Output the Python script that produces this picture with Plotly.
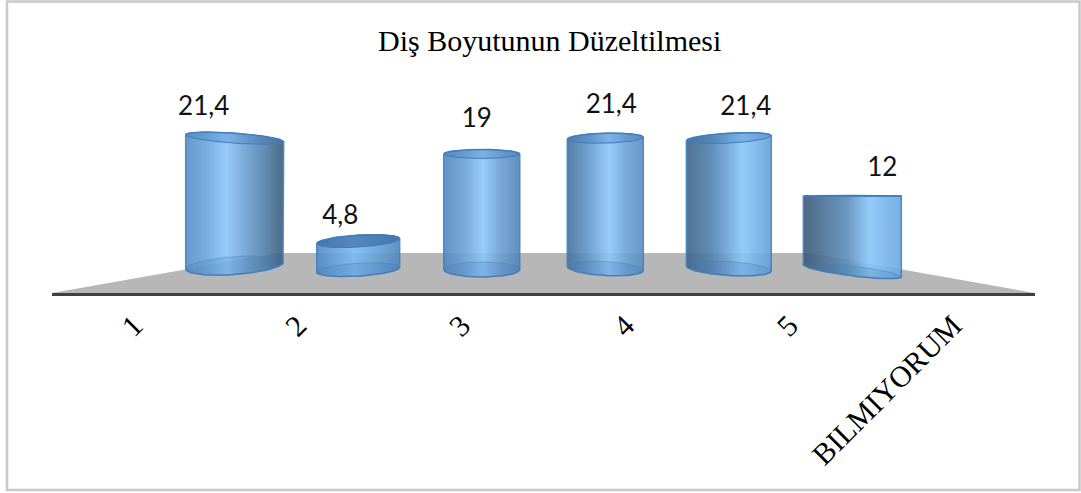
import numpy as np
import plotly.graph_objects as go

# Chart content
title = "Diş Boyutunun Düzeltilmesi"
categories = ["1", "2", "3", "4", "5", "BILMIYORUM"]
values = [21.4, 4.8, 19, 21.4, 21.4, 12]
value_labels = ["21,4", "4,8", "19", "21,4", "21,4", "12"]

# Page and axis layout, in pixels
W, H = 1081, 493
AX_L, AX_R, AX_Y = 52, 1035, 293
BASE_PX = 267          # where value 0 sits on the back-projected column foot
PX_PER_UNIT = 5.95

# Column look: perspective squeezes category spacing about the axis centre
DEPTH = 0.754
half_widths = [0.299, 0.253, 0.232, 0.232, 0.259, 0.299]    # axis units
foot_shift = [0.25, -0.45, 0.0, 0.25, 0.25, -0.07]          # value units
foot_drop = [0, 0, 2.5, 3, 3, 3.5]                          # px the foot ellipse hangs lower
top_tilt = [7, -5, 0, -2, -5, 0]                            # px, right edge minus left edge
top_minor = [5, 6, 4.5, 5, 5, 0.5]
base_tilt = [-7, -5, 0, 4, 5, 12]
base_minor = [9, 6.5, 7.5, 7, 7, 5]
colour_stops = [
    [(0, "#568ec6"), (0.2, "#6aa3da"), (0.42, "#8cc6fa"), (0.62, "#6a9fd0"), (0.85, "#4c789f"), (1, "#395b7b")],
    [(0, "#4f8ac4"), (0.45, "#7dbaf2"), (1, "#4e87bc")],
    [(0, "#4f88c0"), (0.25, "#6a9fd3"), (0.52, "#8cc7fb"), (0.75, "#6b9fd0"), (1, "#4f84b8")],
    [(0, "#44729f"), (0.25, "#5e93c6"), (0.55, "#8cc7fb"), (0.8, "#699fd2"), (1, "#5a8fc2")],
    [(0, "#3f6488"), (0.3, "#4f82b2"), (0.66, "#8ac6fa"), (1, "#62a0d8")],
    [(0, "#3a5876"), (0.2, "#4a7096"), (0.45, "#5c8dbc"), (0.68, "#8ac6fa"), (1, "#68a6de")],
]
EDGE = "#3f7dbd"
label_dx = [-31, -18, -5, 6, 17, 30]    # px from column axis
label_gap = [5.0, 4.0, 5.6, 5.3, 5.0, 4.5]

px_per_axis = (AX_R - AX_L) / 6
y_top = BASE_PX / PX_PER_UNIT
y_bottom = (BASE_PX - AX_Y) / PX_PER_UNIT


def column_centre(i):
    return 3 + DEPTH * (i - 2.5)


def ellipse(xc, yc, hw, minor, tilt, t):
    x = xc + hw * np.cos(t)
    y = yc + (minor * np.sin(t) - tilt / 2 * np.cos(t)) / PX_PER_UNIT
    return x, y


fig = go.Figure()

# Grey floor behind the columns
floor_back = y_bottom + 40 / PX_PER_UNIT
fig.add_trace(go.Scatter(
    x=[0, 6, 3 + 1.62, 3 - 1.62, 0],
    y=[y_bottom, y_bottom, floor_back, floor_back, y_bottom],
    fill="toself", fillcolor="#b7b7b7", mode="lines", line=dict(width=0),
    hoverinfo="skip", showlegend=False,
))

for i, v in enumerate(values):
    xc, hw = column_centre(i), half_widths[i]
    y1 = foot_shift[i] + v
    y0 = foot_shift[i] - foot_drop[i] / PX_PER_UNIT
    upper = np.linspace(np.pi, 0, 60)
    lower = np.linspace(0, -np.pi, 60)
    xt, yt = ellipse(xc, y1, hw, top_minor[i], top_tilt[i], upper)
    xb, yb = ellipse(xc, y0, hw, base_minor[i], base_tilt[i], lower)
    # Cylinder body, from the rear arc of the top to the front arc of the foot
    fig.add_trace(go.Scatter(
        x=np.r_[xt, xb, xt[0]], y=np.r_[yt, yb, yt[0]],
        mode="lines", line=dict(color=EDGE, width=1.5), fill="toself",
        fillgradient=dict(type="horizontal",
                          colorscale=[[s, c] for s, c in colour_stops[i]]),
        opacity=0.9, hoverinfo="skip", showlegend=False,
    ))
    # Top and foot ellipses
    ring = np.linspace(0, 2 * np.pi, 100)
    xr, yr = ellipse(xc, y1, hw, top_minor[i], top_tilt[i], ring)
    fig.add_trace(go.Scatter(
        x=xr, y=yr, mode="lines", line=dict(color=EDGE, width=1), fill="toself",
        fillcolor="rgba(50,100,155,0.6)" if i == 1 else "rgba(60,120,185,0.3)",
        hoverinfo="skip", showlegend=False,
    ))
    xr, yr = ellipse(xc, y0, hw, base_minor[i], base_tilt[i], ring)
    fig.add_trace(go.Scatter(
        x=xr, y=yr, mode="lines", line=dict(color="rgba(63,125,189,0.4)", width=1),
        fill="toself", fillcolor="rgba(60,115,175,0.2)",
        hoverinfo="skip", showlegend=False,
    ))

# Value labels above each column
fig.add_trace(go.Scatter(
    x=[column_centre(i) + label_dx[i] / px_per_axis for i in range(6)],
    y=[foot_shift[i] + v + label_gap[i] for i, v in enumerate(values)],
    mode="text", text=value_labels, textposition="middle center",
    textfont=dict(family="Lato", size=26, color="#111111"),
    hoverinfo="skip", showlegend=False,
))

fig.update_layout(
    width=W, height=H,
    margin=dict(l=0, r=0, t=0, b=0),
    paper_bgcolor="white", plot_bgcolor="rgba(0,0,0,0)",
    showlegend=False,
    xaxis=dict(
        domain=[AX_L / W, AX_R / W], range=[0, 6],
        tickmode="array", tickvals=[i + 0.5 for i in range(6)], ticktext=categories,
        tickangle=-45, ticks="", showgrid=False, zeroline=False,
        showline=True, linecolor="#404040", linewidth=3,
        tickfont=dict(family="Liberation Serif", size=30, color="black"),
        fixedrange=True,
    ),
    yaxis=dict(
        domain=[1 - AX_Y / H, 1], range=[y_bottom, y_top],
        visible=False, fixedrange=True,
    ),
    shapes=[dict(type="rect", xref="paper", yref="paper",
                 x0=7 / W, x1=1079.5 / W, y0=1 - 490 / H, y1=1 - 1.5 / H,
                 line=dict(color="#c9c9c9", width=2.5))],
    annotations=[dict(text=title, xref="paper", yref="paper",
                      x=549.5 / W, y=1 - 40 / H, xanchor="center", yanchor="middle",
                      showarrow=False,
                      font=dict(family="Liberation Serif", size=30, color="black"))],
)

fig.write_html("out.html")
